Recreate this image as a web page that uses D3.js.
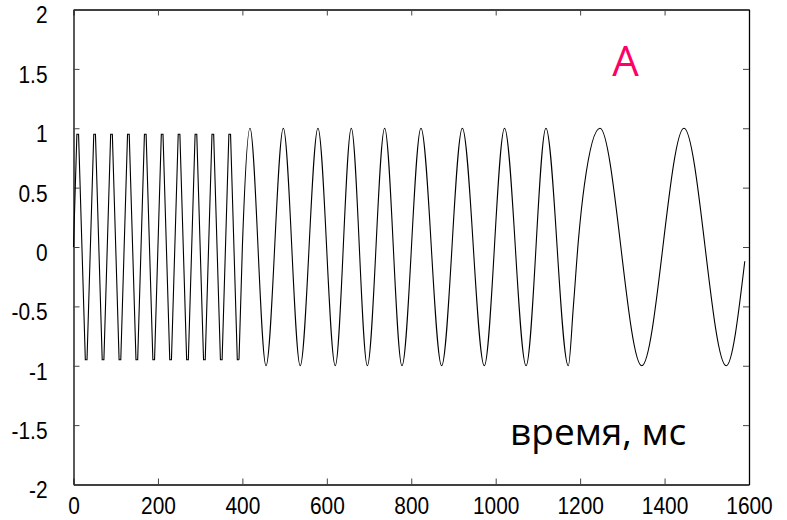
<!DOCTYPE html>
<html>
<head>
<meta charset="utf-8">
<script src="https://cdn.jsdelivr.net/npm/d3@7"></script>
<style>
  body { margin: 0; background: #fff; }
  #chart { width: 787px; height: 520px; }
  .axis text { font-family: "Liberation Sans", Arial, sans-serif; font-size: 24px; fill: #000; }
  .axis path { stroke: #000; stroke-width: 1.3; }
  .axis line { stroke: #444; stroke-width: 1; }
</style>
</head>
<body>
<div id="chart"></div>
<script>
// tick labels
const xTicks = [0, 200, 400, 600, 800, 1000, 1200, 1400, 1600];
const yTicks = [-2, -1.5, -1, -0.5, 0, 0.5, 1, 1.5, 2];

// first part of the signal (0-392 ms): corners
const fastT = [0, 8, 12, 28, 32, 48, 52, 68, 72, 88, 92, 108, 112, 128, 132, 148, 152, 168, 172, 188, 192,
  208, 212, 228, 232, 248, 252, 268, 272, 288, 292, 308, 312, 328, 332, 348, 352, 368, 372, 388, 392];
const fastV = [0, 0.95, 0.95, -0.95, -0.95, 0.95, 0.95, -0.95, -0.95, 0.95, 0.95, -0.95, -0.95, 0.95, 0.95,
  -0.95, -0.95, 0.95, 0.95, -0.95, -0.95, 0.95, 0.95, -0.95, -0.95, 0.95, 0.95, -0.95, -0.95, 0.95, 0.95,
  -0.95, -0.95, 0.95, 0.95, -0.95, -0.95, 0.95, 0.95, -0.95, -0.95];

// second part (392-1590 ms): peaks, troughs and a few bends
const slowT = [392, 400, 418, 456, 497, 537, 579, 620, 658, 696, 737, 778, 823, 872, 921, 973, 1021, 1072,
  1119, 1172, 1184, 1196, 1210, 1247, 1346, 1446, 1546, 1590];
const slowV = [-0.95, 0, 1, -1, 1, -1, 1, -1, 1, -1, 1, -1, 1, -1, 1, -1, 1, -1,
  1, -1, -0.5, 0.06, 0.52, 1, -1, 1, -1, -0.12];

const W = 787, H = 520;
const svg = d3.select('#chart').append('svg')
  .attr('width', W)
  .attr('height', H);

const x = d3.scaleLinear().domain([0, 1600]).range([73.5, 749]);
const y = d3.scaleLinear().domain([-2, 2]).range([484.5, 9.5]);

// axes on all four sides, ticks pointing inward
svg.append('g')
  .attr('class', 'axis x-axis')
  .attr('transform', `translate(0, ${y(-2)})`)
  .call(d3.axisBottom(x).tickValues(xTicks).tickSizeInner(-6).tickSizeOuter(0).tickPadding(12)
    .tickFormat(d => String(d)));

svg.append('g')
  .attr('class', 'axis')
  .attr('transform', `translate(0, ${y(2)})`)
  .call(d3.axisTop(x).tickValues(xTicks).tickSizeInner(-6).tickSizeOuter(0).tickFormat(''));

svg.append('g')
  .attr('class', 'axis y-axis')
  .attr('transform', `translate(${x(0)}, 0)`)
  .call(d3.axisLeft(y).tickValues(yTicks).tickSizeInner(-6).tickSizeOuter(0).tickPadding(26)
    .tickFormat(d => String(d)));

svg.append('g')
  .attr('class', 'axis')
  .attr('transform', `translate(${x(1600)}, 0)`)
  .call(d3.axisRight(y).tickValues(yTicks).tickSizeInner(-6).tickSizeOuter(0).tickFormat(''));

// y labels sit a little below their ticks in the original
svg.selectAll('.y-axis text').attr('dy', '0.56em');

// labels in the picture are a bit narrower than plain Arial
svg.selectAll('.x-axis text, .y-axis text').each(function () {
  const len = this.getComputedTextLength();
  d3.select(this).attr('textLength', len * 0.87).attr('lengthAdjust', 'spacingAndGlyphs');
});

// signal
const fast = d3.zip(fastT, fastV);
const slow = d3.zip(slowT, slowV);

svg.append('path')
  .datum(fast)
  .attr('fill', 'none')
  .attr('stroke', '#000')
  .attr('stroke-width', 1.1)
  .attr('d', d3.line().x(d => x(d[0])).y(d => y(d[1])));

svg.append('path')
  .datum(slow)
  .attr('fill', 'none')
  .attr('stroke', '#000')
  .attr('stroke-width', 1.1)
  .attr('d', d3.line().x(d => x(d[0])).y(d => y(d[1])).curve(d3.curveMonotoneX));

// annotations
svg.append('text')
  .attr('x', 625.5)
  .attr('y', 76)
  .attr('text-anchor', 'middle')
  .attr('font-family', '"Open Sans", sans-serif')
  .attr('font-size', 42)
  .attr('fill', '#ff0066')
  .text('A');

svg.append('text')
  .attr('x', 510)
  .attr('y', 445)
  .attr('font-family', '"Open Sans", sans-serif')
  .attr('font-size', 37)
  .attr('fill', '#000')
  .text('время, мс');
</script>
</body>
</html>
